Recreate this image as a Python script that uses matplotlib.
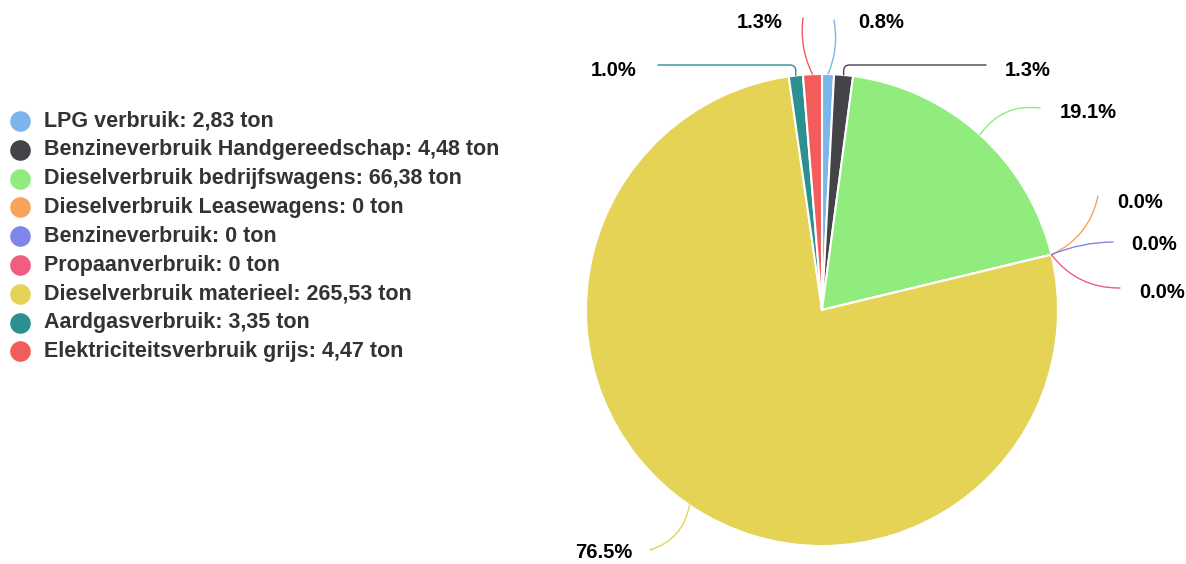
import matplotlib.pyplot as plt
import numpy as np

# ── Data ──────────────────────────────────────────────────────────────────────
names = [
    "LPG verbruik",
    "Benzineverbruik Handgereedschap",
    "Dieselverbruik bedrijfswagens",
    "Dieselverbruik Leasewagens",
    "Benzineverbruik",
    "Propaanverbruik",
    "Dieselverbruik materieel",
    "Aardgasverbruik",
    "Elektriciteitsverbruik grijs",
]
tons = [2.83, 4.48, 66.38, 0, 0, 0, 265.53, 3.35, 4.47]
tons_txt = ["2,83", "4,48", "66,38", "0", "0", "0", "265,53", "3,35", "4,47"]
colors = ["#7cb5ec", "#434348", "#90ed7d", "#f7a35c", "#8085e9",
          "#f15c80", "#e4d354", "#2b908f", "#f45b5b"]

# ── Layout (pixel coords, y from top) ─────────────────────────────────────────
W, H = 1186, 564
CX, CY, R = 822, 310, 236
# (line end x, line end y, text x, text y, ha, connection style)
label_pos = [
    (834, 20, 858, 22, "left", "arc3,rad=-0.15"),
    (986, 65, 1005, 70, "left", "angle,angleA=0,angleB=90,rad=6"),
    (1040, 108, 1060, 113, "left", "arc3,rad=0.3"),
    (1098, 196, 1117, 202, "left", "arc3,rad=-0.25"),
    (1113, 242, 1131, 245, "left", "arc3,rad=0.1"),
    (1120, 288, 1139, 292, "left", "arc3,rad=-0.25"),
    (650, 550, 632, 553, "right", "arc3,rad=0.3"),
    (658, 65, 637, 70, "right", "angle,angleA=0,angleB=90,rad=6"),
    (803, 18, 783, 22, "right", "arc3,rad=0.15"),
]

plt.rcParams["font.family"] = ["Liberation Sans", "DejaVu Sans"]

fig = plt.figure(figsize=(W / 100, H / 100), dpi=100)
ax = fig.add_axes([0, 0, 1, 1])

ax.pie(tons, colors=colors, startangle=90, counterclock=False,
       center=(CX, H - CY), radius=R, frame=True,
       wedgeprops=dict(edgecolor="white", linewidth=1.5))

total = sum(tons)
cum = 0.0
for i, v in enumerate(tons):
    mid = 90 - 360 * (cum + v / 2) / total
    cum += v
    ax_x = CX + R * np.cos(np.radians(mid))
    ax_y = (H - CY) + R * np.sin(np.radians(mid))
    lx, ly, tx, ty, ha, cs = label_pos[i]
    ax.annotate("", xy=(ax_x, ax_y), xytext=(lx, H - ly),
                arrowprops=dict(arrowstyle="-", color=colors[i], lw=1,
                                connectionstyle=cs, shrinkA=0, shrinkB=0))
    ax.text(tx, H - ty, f"{100 * v / total:.1f}%", ha=ha, va="center",
            fontsize=14.5, fontweight="bold", color="#000000")

# Legend
for i, name in enumerate(names):
    y = H - (121 + i * 28.8)
    ax.scatter([20], [y], s=220, color=colors[i], linewidths=0)
    ax.text(44, y, f"{name}: {tons_txt[i]} ton", ha="left", va="center",
            fontsize=15.5, fontweight="bold", color="#333333")

ax.set_xlim(0, W)
ax.set_ylim(0, H)
ax.set_aspect("equal")
ax.axis("off")

fig.savefig("out.png", dpi=100, facecolor="white")
